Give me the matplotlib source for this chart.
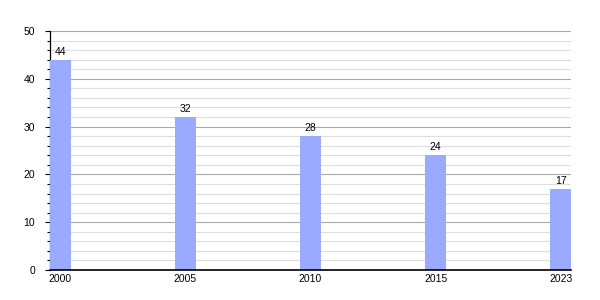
import matplotlib
matplotlib.use("Agg")
import matplotlib.pyplot as plt
from matplotlib.ticker import MultipleLocator

years = ["2000", "2005", "2010", "2015", "2023"]
values = [44, 32, 28, 24, 17]

plt.rcParams['font.family'] = ['Liberation Sans', 'DejaVu Sans']
fig = plt.figure(figsize=(6, 3), dpi=100)
ax = fig.add_axes([50/600, 30/300, 521/600, 239/300])

x = list(range(len(years)))
ax.bar(x, values, width=0.165, color='#99aaff', zorder=3)
for xi, v in zip(x, values):
    ax.text(xi, v + 0.6, str(v), ha='center', va='bottom', fontsize=7.5, zorder=4)

ax.set_xlim(-0.0825, 4.0825)
ax.set_ylim(0, 50)
ax.set_xticks(x)
ax.set_xticklabels(years, fontsize=7.5)
ax.yaxis.set_major_locator(MultipleLocator(10))
ax.yaxis.set_minor_locator(MultipleLocator(2))
ax.tick_params(axis='y', which='major', length=3.8, width=0.8, labelsize=7.5, pad=7)
ax.tick_params(axis='y', which='minor', length=2.2, width=0.8)
ax.tick_params(axis='x', length=0, labelsize=7.5, pad=3)
ax.grid(axis='y', which='major', color='#aaaaaa', linewidth=0.8, zorder=0)
ax.grid(axis='y', which='minor', color='#dddddd', linewidth=0.8, zorder=0)
for s in ['top', 'right']:
    ax.spines[s].set_visible(False)
ax.spines['left'].set_linewidth(0.9)
ax.spines['bottom'].set_linewidth(1.2)
ax.spines['bottom'].set_zorder(5)

fig.savefig("out.png", dpi=100)
